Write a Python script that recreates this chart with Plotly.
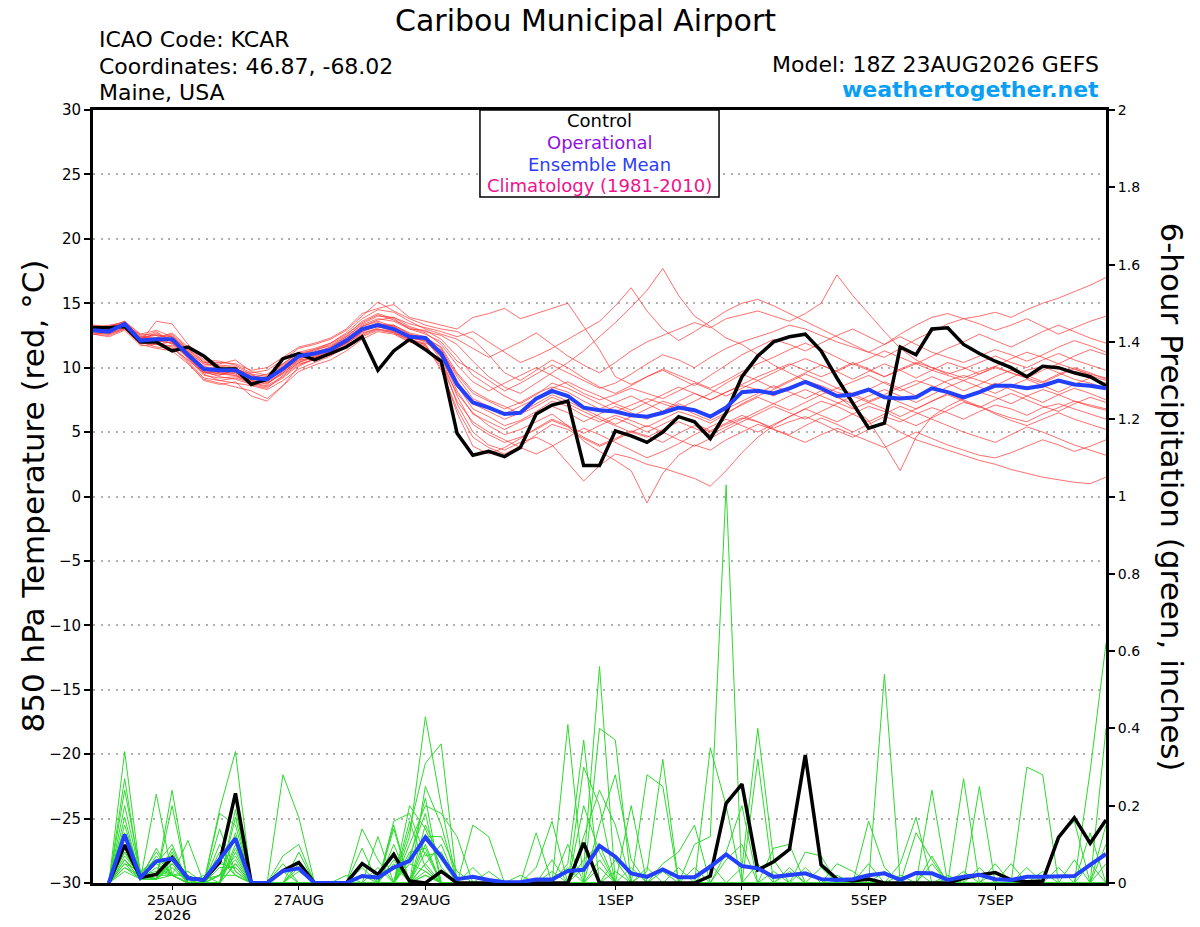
import plotly.graph_objects as go
import pandas as pd

# GEFS run 18Z 23AUG2026, 6-hourly output
temp_times = pd.date_range("2026-08-23 18:00", periods=65, freq="6h")
precip_times = temp_times[1:]

control_temp = [13.1, 13.1, 13.2, 12.0, 12.0, 11.3, 11.6, 10.9, 9.9, 9.9, 8.7, 9.1,
                10.7, 11.1, 10.6, 11.1, 11.6, 12.4, 9.8, 11.3, 12.2, 11.4,
                10.5, 4.9, 3.2, 3.5, 3.1, 3.8, 6.4, 7.1, 7.4, 2.4, 2.4, 5.1, 4.7, 4.2,
                5.0, 6.2, 5.8, 4.5, 6.5, 9.3, 10.9,
                12.0, 12.4, 12.6, 11.3, 9.2, 7.2, 5.3, 5.7, 11.6, 11.0, 13.0, 13.1,
                11.8, 11.1, 10.5, 10.0, 9.3, 10.1, 10.0, 9.6, 9.3, 8.6]

mean_temp = [12.9, 12.8, 13.4, 12.1, 12.2, 12.2, 11.0, 9.9, 9.8, 9.8, 9.2, 9.1,
             9.9, 10.9, 11.1, 11.4, 12.1, 13.0, 13.3, 13.0, 12.4, 12.3,
             11.1, 8.7, 7.3, 6.9, 6.4, 6.5, 7.6, 8.2, 7.8, 6.9, 6.7, 6.6, 6.3, 6.2,
             6.5, 6.9, 6.7, 6.2, 6.9, 8.1, 8.2,
             8.0, 8.4, 8.9, 8.4, 7.8, 7.9, 8.3, 7.7, 7.6, 7.7, 8.4, 8.1,
             7.7, 8.1, 8.6, 8.6, 8.4, 8.6, 9.0, 8.7, 8.6, 8.4]

temp_members = [
    [13.2, 13.0, 13.5, 12.4, 12.8, 12.0, 11.2, 10.3, 10.0, 9.6, 9.0, 9.3,
     10.2, 11.0, 11.3, 11.8, 12.5, 13.6, 14.2, 13.8, 13.0, 12.6,
     12.0, 10.5, 9.8, 9.0, 8.2, 8.8, 9.5, 10.2, 9.6,
     9.0, 8.4, 8.8, 9.5, 10.3, 11.0, 10.6, 10.0, 10.8, 11.5, 12.0, 12.4,
     12.8, 13.3, 13.0, 12.5, 12.0, 11.6, 11.2, 10.8, 11.5, 12.2, 12.8, 13.4,
     13.8, 14.0, 14.3, 13.9, 14.5, 15.0, 15.4, 15.9, 16.4, 17.0],
    [12.8, 12.7, 13.3, 12.0, 11.6, 11.5, 10.6, 9.6, 9.4, 9.9, 9.5, 8.8,
     9.5, 10.4, 10.9, 11.4, 12.0, 13.2, 13.7, 13.9, 13.2, 12.8,
     12.5, 11.8, 10.5, 9.3, 8.5, 8.0, 8.8, 9.6, 10.4,
     11.3, 12.4, 13.5, 14.7, 16.0, 17.7, 15.6, 14.0, 13.2, 12.3, 11.8, 11.0,
     10.2, 9.6, 9.0, 8.6, 8.1, 7.8, 8.3, 8.9, 8.4, 7.8, 8.4, 9.0,
     9.4, 9.0, 8.6, 9.2, 9.8, 10.1, 9.6, 9.1, 8.8, 8.4],
    [13.0, 12.9, 13.2, 12.3, 12.5, 11.8, 10.8, 9.5, 9.0, 8.8, 8.6, 8.3,
     9.0, 9.9, 10.4, 10.9, 11.6, 12.4, 12.9, 12.7, 12.0, 11.6,
     10.4, 8.0, 6.5, 5.5, 4.8, 5.2, 5.8, 6.4, 5.5,
     4.3, 3.5, 2.8, 2.0, -0.5, 1.8, 3.2, 4.0, 3.6, 4.4, 5.0, 5.6,
     5.2, 4.8, 5.5, 6.1, 5.6, 5.0, 5.6, 6.2, 5.8, 6.4, 6.9, 6.5,
     6.0, 6.6, 7.1, 6.8, 6.3, 6.9, 7.2, 6.8, 6.4, 6.0],
    [12.7, 12.6, 13.1, 12.2, 12.0, 12.5, 11.4, 10.2, 10.3, 10.6, 9.7, 9.4,
     10.3, 11.2, 11.5, 11.9, 12.7, 13.8, 14.5, 14.3, 13.6, 13.0,
     12.6, 12.2, 11.5, 10.8, 11.4, 12.0, 12.7, 11.8, 10.9,
     10.2, 9.6, 10.4, 11.3, 12.0, 12.5, 13.0, 13.5, 13.1, 13.8, 14.1, 14.4,
     14.0, 13.6, 14.2, 15.0, 17.2, 15.6, 14.2, 12.8, 11.5, 10.6, 10.0, 9.6,
     9.2, 9.7, 10.1, 9.6, 9.2, 8.8, 9.4, 9.9, 9.5, 9.2],
    [13.1, 13.0, 13.5, 12.1, 12.3, 12.6, 11.5, 10.4, 10.1, 10.0, 9.3, 9.2,
     10.0, 10.8, 11.1, 11.5, 12.2, 13.0, 13.5, 13.0, 12.5, 12.4,
     11.2, 9.5, 8.0, 7.4, 6.8, 7.3, 8.0, 8.5, 8.1,
     7.4, 6.8, 7.3, 7.8, 7.2, 6.6, 7.4, 8.0, 7.5, 8.1, 8.6, 8.3,
     7.8, 8.4, 9.0, 8.5, 7.8, 6.9, 5.9, 4.0, 2.0, 4.6, 6.2, 7.0,
     7.6, 8.1, 7.7, 7.2, 7.8, 8.3, 7.9, 7.4, 7.0, 6.7],
    [12.9, 12.8, 13.3, 11.9, 11.8, 11.7, 10.5, 9.2, 9.0, 9.2, 8.8, 8.6,
     9.3, 10.3, 10.6, 11.0, 11.8, 12.8, 13.2, 12.9, 12.3, 12.1,
     10.8, 7.8, 5.6, 4.8, 4.2, 4.6, 5.2, 5.9, 5.4,
     4.6, 4.0, 4.5, 5.1, 4.7, 4.2, 4.9, 5.5, 5.0, 5.6, 6.1, 5.8,
     5.3, 5.8, 6.2, 5.7, 5.1, 4.6, 5.2, 5.7, 5.0, 4.4, 4.0, 3.6,
     3.2, 2.8, 2.5, 2.1, 1.8, 1.5, 1.3, 1.1, 1.0, 1.5],
    [13.3, 13.1, 13.6, 12.5, 12.1, 11.9, 10.9, 9.8, 9.5, 9.6, 9.1, 8.9,
     9.6, 10.6, 10.8, 11.2, 11.9, 12.6, 13.1, 13.3, 12.6, 12.2,
     10.6, 7.2, 5.0, 4.0, 3.6, 4.2, 4.6, 4.0, 2.6,
     1.2, 2.4, 3.3, 3.0, 2.5, 2.2, 1.8, 1.4, 0.8, 2.0, 3.4, 4.6,
     5.5, 6.2, 6.8, 6.3, 5.8, 6.4, 7.0, 6.6, 6.0, 5.5, 6.1, 6.7,
     7.3, 7.0, 6.5, 6.1, 5.8, 6.4, 6.9, 7.4, 7.1, 6.8],
    [12.6, 12.5, 13.0, 12.0, 13.6, 13.4, 11.8, 10.6, 10.5, 10.2, 9.6, 9.8,
     10.6, 11.5, 11.8, 12.2, 12.9, 14.0, 15.1, 14.4, 13.8, 13.3,
     13.0, 12.8, 12.2, 11.0, 9.6, 9.0, 9.8, 10.6, 10.0,
     9.2, 8.5, 8.0, 8.6, 9.3, 9.8, 9.2, 8.6, 9.4, 10.2, 11.0, 11.6,
     12.2, 11.8, 11.3, 11.9, 12.5, 13.0, 12.4, 11.8, 12.6, 13.3, 13.9, 14.2,
     13.8, 13.4, 12.9, 13.3, 13.8, 13.2, 12.6, 13.1, 13.6, 14.0],
    [13.0, 13.2, 13.4, 12.2, 12.0, 12.3, 11.2, 9.9, 9.6, 9.4, 9.0, 8.7,
     9.7, 10.7, 11.0, 11.6, 12.3, 13.2, 13.6, 13.2, 12.4, 12.0,
     11.0, 8.6, 6.8, 6.2, 5.5, 5.9, 6.6, 7.4, 7.0,
     6.3, 5.8, 6.3, 5.9, 5.4, 6.0, 6.6, 6.2, 5.7, 6.4, 7.2, 7.8,
     8.3, 8.9, 9.5, 9.0, 8.4, 8.9, 9.4, 8.8, 8.2, 8.7, 9.3, 8.8,
     8.2, 8.7, 9.3, 9.8, 9.4, 8.9, 9.5, 10.0, 9.6, 9.1],
    [12.8, 12.9, 13.2, 12.6, 12.9, 12.4, 11.3, 10.0, 9.8, 9.5, 8.9, 9.0,
     9.8, 10.6, 11.2, 11.6, 12.4, 13.3, 13.8, 13.6, 13.0, 12.9,
     12.2, 10.9, 9.4, 8.6, 7.8, 7.2, 7.9, 8.8, 8.4,
     7.8, 7.2, 6.6, 7.1, 7.6, 7.2, 6.8, 7.4, 8.0, 8.8, 9.5, 9.0,
     8.4, 9.0, 9.6, 10.2, 9.7, 9.1, 9.7, 10.3, 9.8, 9.2, 9.8, 10.4,
     10.0, 9.5, 10.1, 10.7, 11.2, 10.8, 10.3, 10.9, 11.4, 11.0],
    [13.2, 12.8, 13.4, 12.0, 12.2, 12.1, 10.8, 9.6, 9.7, 9.9, 9.4, 9.1,
     9.9, 10.9, 11.2, 11.5, 12.0, 12.9, 13.2, 12.8, 12.1, 11.8,
     9.8, 6.8, 4.6, 3.8, 3.3, 3.9, 4.8, 5.6, 5.2,
     4.5, 3.9, 4.4, 5.0, 5.5, 5.0, 4.4, 3.9, 4.5, 5.2, 5.8, 6.4,
     7.0, 6.5, 6.0, 6.6, 7.2, 7.8, 7.3, 6.8, 6.2, 6.8, 7.4, 8.0,
     7.5, 7.0, 6.4, 5.9, 5.5, 6.0, 6.5, 6.0, 5.6, 5.2],
    [12.9, 13.1, 13.3, 12.3, 12.6, 12.2, 11.1, 10.1, 9.9, 9.7, 9.2, 9.5,
     10.3, 11.1, 11.4, 11.7, 12.4, 13.4, 14.0, 13.9, 13.4, 13.1,
     12.8, 12.4, 12.8, 12.0, 11.2, 10.4, 10.9, 11.5, 12.2,
     12.9, 13.6, 14.8, 16.2, 14.4, 13.0, 12.1, 12.8, 13.6, 14.4, 15.0, 15.3,
     14.8, 14.2, 13.6, 13.0, 12.4, 11.8, 11.2, 11.8, 12.4, 11.8, 11.2, 10.8,
     10.4, 10.9, 11.4, 11.0, 10.5, 11.0, 11.6, 12.1, 11.7, 11.2],
    [12.7, 12.6, 13.0, 11.8, 11.5, 11.3, 10.3, 9.1, 8.8, 8.5, 8.2, 7.6,
     8.6, 9.7, 10.2, 10.6, 11.3, 12.2, 12.8, 12.6, 12.0, 11.7,
     10.2, 7.4, 5.8, 5.0, 4.4, 3.8, 3.3, 3.9, 4.6,
     5.3, 4.8, 4.2, 3.6, 3.0, 3.5, 4.1, 4.8, 5.4, 6.0, 5.5, 5.0,
     5.6, 6.2, 6.8, 7.4, 7.0, 6.4, 5.8, 6.4, 7.0, 6.5, 6.0, 5.5,
     5.0, 4.6, 4.2, 4.8, 5.4, 5.0, 4.5, 4.0, 3.6, 3.2],
    [13.1, 13.3, 13.5, 12.4, 12.3, 12.7, 11.6, 10.5, 10.2, 10.1, 9.5, 9.3,
     10.1, 11.0, 11.4, 11.9, 12.6, 13.5, 14.1, 13.7, 13.1, 12.7,
     11.8, 10.2, 8.9, 8.2, 8.8, 9.4, 10.0, 9.4, 8.7,
     8.0, 7.5, 7.9, 8.4, 8.0, 7.6, 8.2, 8.8, 8.3, 7.8, 8.4, 9.0,
     9.6, 10.2, 10.7, 10.2, 9.7, 10.3, 9.8, 9.3, 9.9, 10.4, 10.0, 9.5,
     9.9, 10.4, 10.9, 10.4, 10.0, 10.6, 11.1, 10.6, 10.2, 9.8],
    [12.8, 12.7, 13.1, 12.1, 12.1, 11.9, 10.9, 9.7, 9.3, 9.1, 8.7, 8.4,
     9.4, 10.4, 10.8, 11.3, 12.0, 12.8, 13.3, 13.1, 12.4, 12.1,
     10.9, 8.2, 6.4, 5.8, 5.2, 5.8, 6.4, 7.0, 6.5,
     5.8, 6.4, 7.0, 6.5, 6.0, 6.6, 7.2, 6.7, 6.1, 6.8, 7.4, 8.0,
     8.6, 8.1, 7.6, 8.2, 7.7, 7.2, 7.8, 8.3, 7.8, 7.3, 7.9, 8.5,
     9.0, 8.5, 8.0, 8.6, 9.1, 8.6, 8.1, 8.7, 9.2, 8.8],
    [13.0, 12.9, 13.4, 12.2, 12.7, 12.0, 10.7, 9.4, 9.2, 9.3, 8.9, 8.8,
     9.6, 10.5, 10.9, 11.3, 11.9, 12.7, 13.0, 12.8, 12.2, 11.9,
     11.4, 9.0, 7.2, 6.6, 6.0, 6.5, 7.2, 7.9, 7.4,
     6.8, 6.2, 5.6, 6.2, 6.8, 7.4, 7.0, 6.4, 5.9, 6.5, 7.1, 7.7,
     7.2, 6.7, 7.3, 7.9, 8.4, 8.0, 7.4, 7.9, 8.5, 9.0, 8.6, 8.1,
     7.6, 8.2, 8.8, 8.3, 7.8, 7.3, 7.9, 8.4, 8.0, 7.5],
    [12.9, 13.0, 13.3, 12.0, 11.9, 11.6, 10.4, 9.0, 8.7, 8.9, 7.8, 7.4,
     8.6, 10.1, 10.7, 11.1, 11.7, 12.5, 13.0, 12.7, 12.2, 11.8,
     10.0, 6.5, 3.9, 3.3, 3.8, 4.5, 5.3, 6.0, 5.5,
     4.9, 5.5, 6.1, 5.6, 5.0, 5.6, 6.2, 5.7, 5.1, 5.7, 6.3, 5.8,
     5.2, 4.7, 4.2, 4.8, 5.3, 4.8, 4.3, 3.8, 4.4, 5.0, 4.5, 4.0,
     3.6, 3.2, 3.0, 3.4, 3.9, 4.4, 4.0, 3.5, 3.9, 4.4],
    [13.3, 13.2, 13.6, 12.6, 12.5, 12.4, 11.4, 10.4, 10.4, 10.3, 9.8, 10.0,
     10.8, 11.6, 11.9, 12.3, 13.0, 14.2, 14.6, 14.9, 13.9, 13.6,
     13.3, 13.0, 13.9, 14.2, 14.6, 13.8, 14.2, 14.6, 15.0,
     13.2, 11.4, 9.3, 8.7, 9.3, 9.9, 9.4, 8.9, 8.4, 9.0, 9.7, 10.3,
     10.8, 11.4, 11.9, 11.4, 10.8, 10.2, 10.7, 11.3, 10.8, 10.3, 10.9, 11.5,
     12.0, 12.6, 12.1, 11.6, 12.2, 12.8, 13.3, 12.8, 12.3, 11.9],
    [12.6, 12.4, 12.9, 11.7, 11.8, 12.0, 10.8, 9.7, 9.5, 9.4, 8.8, 8.5,
     9.2, 10.2, 10.7, 11.2, 11.9, 12.9, 13.4, 13.2, 12.6, 12.3,
     11.6, 9.6, 8.2, 7.5, 7.0, 6.4, 7.0, 7.7, 7.2,
     6.6, 6.0, 5.5, 5.0, 4.6, 5.2, 5.8, 5.3, 4.8, 5.4, 6.0, 6.6,
     7.2, 7.8, 8.3, 7.8, 7.3, 6.8, 7.3, 7.8, 7.3, 6.8, 7.4, 7.9,
     7.4, 6.9, 7.5, 8.0, 7.5, 7.0, 6.6, 7.2, 7.7, 7.3],
    [13.0, 13.0, 13.2, 12.3, 12.2, 12.2, 11.0, 9.9, 9.6, 9.7, 9.3, 9.0,
     9.9, 10.8, 11.1, 11.4, 12.1, 13.0, 13.4, 13.3, 12.7, 12.4,
     11.5, 9.3, 7.6, 7.0, 6.4, 7.0, 7.6, 8.4, 8.9,
     8.3, 7.8, 7.2, 6.7, 7.3, 7.9, 8.5, 8.0, 7.5, 8.1, 8.7, 9.3,
     9.8, 10.3, 9.8, 9.3, 9.8, 10.4, 9.9, 9.3, 9.8, 10.3, 9.8, 9.4,
     9.0, 9.5, 10.0, 9.6, 9.2, 9.8, 10.3, 9.9, 9.4, 9.0],
]

control_precip = [0, .098, .014, .022, .066, .012, .008, .053, .232, 0, 0, .032, .053, 0, 0, 0,
                  .05, .022, .074, .005, 0, .03, 0, 0, 0, 0, 0, 0, 0, 0, .104, 0,
                  0, 0, 0, 0, 0, 0, .018, .206, .256, .034, .055, .087, .331, .047, .01, .006,
                  .01, 0, 0, 0, 0, 0, .012, .021, .027, .008, .003, .005, .118, .169, .103, .163]

mean_precip = [0, .125, .014, .056, .063, .012, .008, .06, .115, 0, 0, .031, .038, 0, 0, 0,
               .018, .014, .04, .057, .118, .068, .01, .016, .008, .002, .002, .009, .009, .031, .034, .096,
               .068, .025, .016, .035, .015, .015, .042, .074, .044, .038, .016, .02, .025, .01, .008, .01,
               .02, .025, .008, .026, .025, .008, .016, .021, .01, .008, .016, .016, .018, .018, .047, .075]

precip_members = [
    [0, .34, .02, .02, .02, 0, .01, .02, .12, 0, 0, 0, .05, 0, 0, 0,
     0, 0, 0, .2, .14, .04, 0, 0, 0, 0, 0, 0, .03, 0, 0, .04,
     0, 0, .04, 0, 0, 0, 0, .08, .2, 0, 0, 0, 0, 0, 0, 0,
     0, 0, 0, 0, .07, 0, 0, 0, 0, 0, 0, 0, 0, 0, .29, .62],
    [0, .27, .01, .05, .1, 0, 0, .05, .04, 0, 0, .05, 0, 0, 0, 0,
     0, .04, 0, .06, .22, 0, 0, 0, .03, 0, 0, 0, 0, .41, 0, 0,
     0, 0, 0, 0, 0, 0, 0, 0, 0, 0, 0, 0, .04, 0, 0, 0,
     0, 0, 0, 0, 0, .01, 0, 0, 0, 0, .3, .28, 0, 0, 0, 0],
    [0, .24, .03, .06, .02, .03, 0, 0, .09, 0, 0, 0, 0, 0, 0, .02,
     0, 0, .16, .18, .07, .08, 0, 0, 0, 0, 0, 0, 0, 0, .12, .24,
     .15, 0, 0, 0, 0, 0, 0, 0, 0, 0, 0, 0, 0, .04, 0, 0,
     0, 0, .05, .17, 0, 0, 0, 0, 0, 0, 0, 0, 0, 0, 0, .1],
    [0, .2, .02, .01, .05, 0, 0, .19, .34, 0, 0, 0, 0, 0, 0, 0,
     0, 0, 0, .05, .03, 0, 0, .04, 0, 0, 0, 0, 0, 0, 0, 0,
     0, 0, 0, .05, .08, .15, 0, 0, 0, .05, 0, 0, 0, 0, 0, 0,
     0, .03, 0, 0, 0, 0, 0, 0, 0, 0, 0, 0, .04, 0, 0, 0],
    [0, .17, .01, .23, .02, 0, 0, 0, .05, 0, 0, 0, 0, 0, 0, 0,
     .02, 0, 0, .12, .43, .2, 0, 0, 0, 0, 0, 0, 0, 0, 0, .15,
     .28, .06, 0, 0, 0, 0, 0, 0, 0, 0, 0, 0, 0, 0, 0, 0,
     0, 0, 0, 0, .24, 0, 0, 0, 0, 0, 0, 0, 0, 0, .05, 0],
    [0, .15, .02, .01, .09, 0, 0, .18, .15, 0, 0, 0, 0, 0, 0, 0,
     0, 0, .1, 0, .12, .12, .03, 0, 0, 0, 0, 0, 0, .05, .37, 0,
     0, 0, 0, 0, 0, 0, 0, 0, 0, 0, 0, .03, 0, 0, 0, 0,
     .05, 0, 0, 0, 0, 0, 0, 0, 0, 0, .04, 0, 0, 0, 0, 0],
    [0, .13, .01, .04, .02, 0, 0, .04, .04, 0, 0, .28, .17, 0, 0, 0,
     0, 0, 0, 0, .05, 0, 0, 0, 0, 0, 0, 0, 0, 0, 0, 0,
     .03, 0, 0, 0, 0, 0, 0, 0, .04, .4, .06, 0, 0, 0, 0, 0,
     0, 0, 0, 0, 0, 0, 0, 0, .05, 0, 0, 0, 0, 0, 0, 0],
    [0, .12, .03, .01, .24, 0, 0, .02, .07, 0, 0, 0, 0, 0, 0, 0,
     .14, .06, 0, 0, .03, 0, 0, 0, 0, 0, 0, 0, 0, 0, .06, .1,
     0, 0, 0, 0, 0, 0, .05, 0, 0, 0, 0, .04, 0, 0, 0, 0,
     0, 0, 0, .03, 0, 0, .03, 0, 0, 0, 0, 0, 0, 0, 0, .4],
    [0, .1, .02, .08, .02, .02, 0, 0, .19, 0, 0, 0, .08, 0, 0, 0,
     0, 0, 0, .1, .2, .18, .12, 0, 0, 0, 0, 0, 0, 0, 0, 0,
     0, 0, .28, .25, 0, 0, 0, 0, 0, 0, 0, 0, 0, 0, 0, 0,
     0, 0, 0, 0, 0, .02, 0, 0, 0, 0, 0, 0, 0, .06, 0, 0],
    [0, .09, .01, .01, .05, 0, 0, .14, .03, 0, 0, 0, 0, 0, 0, 0,
     0, 0, .15, 0, .1, 0, 0, 0, 0, 0, .02, 0, 0, 0, .2, .08,
     0, .04, 0, 0, 0, 0, 0, 0, 0, 0, 0, 0, 0, 0, .02, 0,
     .16, .04, 0, 0, 0, 0, 0, 0, 0, 0, 0, 0, 0, 0, 0, 0],
    [0, .08, .02, .01, .2, 0, 0, .02, .06, 0, 0, 0, 0, 0, 0, 0,
     .09, 0, 0, .16, .04, 0, 0, 0, 0, 0, 0, .13, 0, 0, 0, 0,
     .06, 0, 0, 0, 0, 0, .35, .2, 0, 0, 0, 0, 0, 0, 0, 0,
     0, 0, .02, 0, 0, 0, 0, 0, 0, .05, 0, 0, 0, 0, 0, 0],
    [0, .08, .01, .07, .02, 0, .02, 0, .17, 0, 0, 0, 0, 0, 0, 0,
     0, 0, .08, 0, .25, .15, 0, 0, 0, 0, 0, 0, 0, 0, .04, .56,
     0, 0, 0, 0, 0, 0, 0, 0, 0, 0, .03, 0, 0, 0, 0, 0,
     0, 0, 0, .13, .06, 0, 0, 0, 0, 0, 0, 0, 0, 0, .13, 0],
    [0, .07, .02, .01, .08, 0, 0, 0, .05, 0, 0, .07, .1, 0, 0, 0,
     0, 0, 0, .08, .09, 0, 0, 0, 0, 0, 0, .04, .16, 0, 0, 0,
     0, 0, 0, 0, 0, .1, .12, 1.03, 0, 0, 0, 0, 0, 0, 0, 0,
     0, 0, 0, 0, 0, 0, 0, 0, 0, 0, 0, 0, 0, 0, 0, 0],
    [0, .06, .01, .05, .02, 0, 0, .1, .03, 0, 0, 0, 0, 0, 0, 0,
     0, 0, .14, 0, .15, .06, 0, 0, 0, 0, 0, 0, 0, 0, .3, .2,
     0, 0, 0, 0, 0, 0, 0, 0, 0, 0, 0, 0, .08, .07, 0, 0,
     0, 0, 0, 0, 0, 0, 0, .04, 0, 0, 0, 0, 0, 0, 0, .15],
    [0, .06, .02, .01, .02, .11, 0, 0, .1, 0, 0, 0, 0, 0, 0, 0,
     0, .12, 0, 0, .02, 0, 0, 0, 0, 0, 0, 0, 0, .04, 0, 0,
     0, 0, 0, .03, 0, .04, 0, 0, 0, 0, .09, .1, 0, 0, 0, 0,
     0, 0, 0, 0, 0, 0, 0, 0, .03, 0, 0, 0, 0, 0, 0, 0],
    [0, .05, .01, .09, .02, 0, 0, .08, .02, 0, 0, 0, .04, 0, 0, 0,
     0, 0, 0, .14, .31, .36, 0, 0, 0, 0, 0, 0, 0, 0, 0, 0,
     0, 0, 0, 0, .04, 0, 0, 0, 0, .32, 0, 0, 0, 0, 0, 0,
     0, 0, 0, 0, 0, 0, 0, 0, 0, 0, 0, 0, .12, .16, 0, 0],
    [0, .05, .03, .01, .07, 0, 0, .02, .02, 0, 0, .03, 0, 0, 0, 0,
     0, 0, .06, 0, .02, 0, 0, .15, .12, 0, 0, 0, 0, 0, 0, 0,
     0, 0, 0, 0, 0, 0, 0, .06, .1, 0, 0, 0, 0, 0, 0, 0,
     0, 0, 0, 0, 0, 0, .27, 0, 0, 0, 0, 0, 0, 0, 0, 0],
    [0, .04, .01, .01, .06, 0, 0, 0, .13, 0, 0, 0, 0, 0, 0, 0,
     0, 0, 0, .07, .18, 0, 0, 0, 0, 0, 0, 0, .06, 0, 0, .4,
     .37, 0, 0, 0, 0, 0, 0, 0, 0, 0, 0, 0, 0, 0, 0, 0,
     0, 0, 0, 0, .05, 0, 0, 0, 0, 0, 0, .03, 0, 0, 0, 0],
    [0, .04, .02, .03, .02, 0, 0, .06, .02, 0, 0, 0, .03, 0, 0, 0,
     0, 0, .05, 0, .08, 0, 0, 0, 0, 0, 0, 0, 0, .1, 0, 0,
     0, .2, 0, 0, 0, 0, 0, 0, 0, 0, 0, 0, 0, 0, .05, .03,
     0, 0, 0, 0, 0, 0, 0, .25, 0, 0, 0, 0, 0, 0, 0, 0],
    [0, .03, .01, .01, .04, 0, 0, 0, .08, 0, 0, 0, 0, 0, 0, 0,
     .04, 0, 0, 0, .05, .1, 0, 0, 0, 0, 0, 0, 0, 0, 0, .06,
     0, 0, .03, .32, 0, 0, 0, 0, 0, 0, 0, 0, 0, 0, 0, 0,
     0, .54, 0, 0, 0, 0, 0, 0, 0, 0, 0, 0, 0, 0, 0, .05],
]

tick_dates = ["2026-08-25", "2026-08-27", "2026-08-29", "2026-09-01",
              "2026-09-03", "2026-09-05", "2026-09-07"]
tick_labels = ["25AUG", "27AUG", "29AUG", "1SEP", "3SEP", "5SEP", "7SEP"]
year_label = "2026"

legend_items = ["Control", "Operational", "Ensemble Mean", "Climatology (1981-2010)"]
legend_colors = ["black", "#8E12E6", "#2D3CFF", "#F0128C"]

FONT = "DejaVu Sans"

fig = go.Figure()

# ensemble members
for m in temp_members:
    fig.add_trace(go.Scatter(x=temp_times, y=m, mode="lines",
                             line=dict(color="rgba(255,50,50,0.7)", width=1),
                             hoverinfo="skip"))
for m in precip_members:
    fig.add_trace(go.Scatter(x=precip_times, y=m, mode="lines", yaxis="y2",
                             line=dict(color="rgb(45,218,45)", width=1),
                             hoverinfo="skip"))

# control and mean
fig.add_trace(go.Scatter(x=temp_times, y=control_temp, mode="lines",
                         line=dict(color="black", width=3.5)))
fig.add_trace(go.Scatter(x=temp_times, y=mean_temp, mode="lines",
                         line=dict(color="#2440FF", width=4)))
fig.add_trace(go.Scatter(x=precip_times, y=control_precip, mode="lines", yaxis="y2",
                         line=dict(color="black", width=3.5)))
fig.add_trace(go.Scatter(x=precip_times, y=mean_precip, mode="lines", yaxis="y2",
                         line=dict(color="#2440FF", width=4)))

# legend box
fig.add_shape(type="rect", xref="paper", yref="paper", x0=0.382, x1=0.618, y0=0.8875, y1=1.0,
              line=dict(color="black", width=1.5), fillcolor="white", layer="above")
legend_y = [0.986, 0.958, 0.930, 0.902]
for txt, col, yy in zip(legend_items, legend_colors, legend_y):
    fig.add_annotation(x=0.5, y=yy, xref="paper", yref="paper", text=txt, showarrow=False,
                       font=dict(family=FONT, size=18, color=col), xanchor="center", yanchor="middle")

# header text
fig.add_annotation(x=0.4857, y=1.1164, xref="paper", yref="paper", text="Caribou Municipal Airport",
                   showarrow=False, font=dict(family=FONT, size=30, color="black"),
                   xanchor="center", yanchor="middle")
for txt, yy in [("ICAO Code: KCAR", 1.0906), ("Coordinates: 46.87, -68.02", 1.0569),
                ("Maine, USA", 1.0220)]:
    fig.add_annotation(x=0.004, y=yy, xref="paper", yref="paper", text=txt, showarrow=False,
                       font=dict(family=FONT, size=22, color="black"),
                       xanchor="left", yanchor="middle")
fig.add_annotation(x=0.9955, y=1.0595, xref="paper", yref="paper", text="Model: 18Z 23AUG2026 GEFS",
                   showarrow=False, font=dict(family=FONT, size=22, color="black"),
                   xanchor="right", yanchor="middle")
fig.add_annotation(x=0.9955, y=1.0265, xref="paper", yref="paper", text="<b>weathertogether.net</b>",
                   showarrow=False, font=dict(family=FONT, size=22, color="#0A9FF5"),
                   xanchor="right", yanchor="middle")

# year under the first date tick
fig.add_annotation(x=tick_dates[0], y=-0.0414, xref="x", yref="paper", text=year_label,
                   showarrow=False, font=dict(family=FONT, size=14.5, color="black"),
                   xanchor="center", yanchor="middle")

# axis titles
fig.add_annotation(x=-0.0602, y=0.5, xref="paper", yref="paper", text="850 hPa Temperature (red, °C)",
                   showarrow=False, textangle=-90, font=dict(family=FONT, size=31, color="black"),
                   xanchor="center", yanchor="middle")
fig.add_annotation(x=1.0652, y=0.5, xref="paper", yref="paper",
                   text="6-hour Precipitation (green, inches)",
                   showarrow=False, textangle=90, font=dict(family=FONT, size=31, color="black"),
                   xanchor="center", yanchor="middle")

fig.update_layout(
    width=1200, height=927,
    margin=dict(l=93, r=94, t=110, b=44, autoexpand=False),
    paper_bgcolor="white", plot_bgcolor="white",
    showlegend=False, hovermode=False,
    font=dict(family=FONT, size=14, color="black"),
    xaxis=dict(type="date", range=["2026-08-23 18:00", "2026-09-08 18:00"],
               tickvals=pd.to_datetime(tick_dates), ticktext=tick_labels,
               ticks="outside", ticklen=4, tickwidth=1, tickcolor="black",
               ticklabelstandoff=-2,
               showgrid=False, zeroline=False, automargin=False,
               showline=True, linewidth=3, linecolor="black", mirror=True,
               tickfont=dict(size=14.5)),
    yaxis=dict(range=[-30, 30], tick0=-30, dtick=5, automargin=False,
               ticks="outside", ticklen=6, tickwidth=2, tickcolor="black",
               showgrid=True, gridcolor="#b0b0b0", griddash="2px,5.5px", gridwidth=1.5,
               zeroline=False, showline=True, linewidth=3, linecolor="black",
               tickfont=dict(size=15)),
    yaxis2=dict(range=[0, 2], tick0=0, dtick=0.2, overlaying="y", side="right",
                automargin=False,
                ticks="outside", ticklen=6, tickwidth=2, tickcolor="black",
                showgrid=False, zeroline=False, showline=True, linewidth=3,
                linecolor="black", tickfont=dict(size=14)),
)

fig.write_html("out.html", config={"displayModeBar": False},
               post_script="document.body.style.margin='0';")
